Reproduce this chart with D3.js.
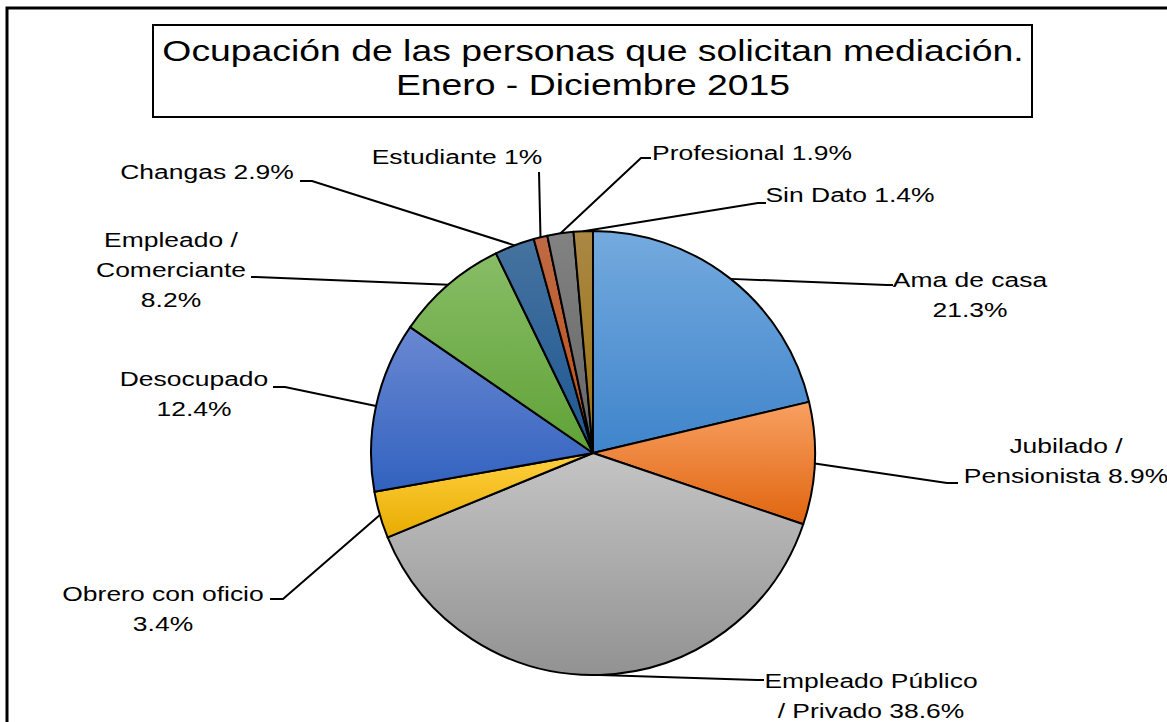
<!DOCTYPE html>
<html>
<head>
<meta charset="utf-8">
<script src="https://cdn.jsdelivr.net/npm/d3@7"></script>
<style>
  body { margin: 0; background: #fff; }
  svg { display: block; }
  text { font-family: "Liberation Sans", Arial, sans-serif; fill: #000; }
</style>
</head>
<body>
<svg id="chart" width="1167" height="722"></svg>
<script>

// datos (porcentajes, sentido horario desde las 12)
const categories = ["Ama de casa", "Jubilado / Pensionista", "Empleado Público / Privado", "Obrero con oficio",
                    "Desocupado", "Empleado / Comerciante", "Changas", "Estudiante", "Profesional", "Sin Dato"];
const values = [21.3, 8.9, 38.6, 3.4, 12.4, 8.2, 2.9, 1, 1.9, 1.4];
const labelLines = [
  ["Ama de casa", "21.3%"],
  ["Jubilado /", "Pensionista 8.9%"],
  ["Empleado Público", "/ Privado 38.6%"],
  ["Obrero con oficio", "3.4%"],
  ["Desocupado", "12.4%"],
  ["Empleado /", "Comerciante", "8.2%"],
  ["Changas 2.9%"],
  ["Estudiante 1%"],
  ["Profesional 1.9%"],
  ["Sin Dato 1.4%"]
];
const titleLines = ["Ocupación de las personas que solicitan mediación.", "Enero - Diciembre 2015"];

// colores: [arriba, abajo] del degradado
const colors = [
  ["#74aade", "#3f84cb"], ["#f8a062", "#e0650f"], ["#c4c4c4", "#929292"], ["#ffd040", "#e8ac00"],
  ["#6a88d2", "#3162bf"], ["#88bd66", "#60a237"], ["#46739f", "#1d5793"], ["#bf6a45", "#c04e16"],
  ["#828282", "#656565"], ["#aa8845", "#9a720e"]
];

// posiciones de etiquetas: centro del texto, línea base, codo y fin del conector
const labelLayout = [
  {cx: 970, y: 287, ex: 887, ey: 285, hx: 893},
  {cx: 1066, y: 453, ex: 947, ey: 483, hx: 958},
  {cx: 871, y: 688, ex: 757, ey: 680, hx: 764},
  {cx: 163, y: 601, ex: 283, ey: 599, hx: 270},
  {cx: 194, y: 386, ex: 285, ey: 387, hx: 273},
  {cx: 171, y: 247, ex: 256, ey: 277, hx: 251},
  {cx: 207, y: 179, ex: 312, ey: 181, hx: 300},
  {cx: 457, y: 164, ex: 539, ey: 172, hx: 539},
  {cx: 752, y: 160, ex: 641, ey: 158, hx: 651},
  {cx: 850, y: 202, ex: 758, ey: 203, hx: 766}
];

const width = 1167, height = 722;
const cx = 593, cy = 453, radius = 222;
const sx = 1.26;      // el original está estirado a lo ancho
const lineH = 30;

const svg = d3.select("#chart");
const defs = svg.append("defs");

colors.forEach((c, i) => {
  const g = defs.append("linearGradient").attr("id", "g" + i)
    .attr("x1", 0).attr("y1", 0).attr("x2", 0).attr("y2", 1);
  g.append("stop").attr("offset", "0%").attr("stop-color", c[0]);
  g.append("stop").attr("offset", "100%").attr("stop-color", c[1]);
});

// marco exterior
svg.append("rect")
  .attr("x", 7).attr("y", 8).attr("width", 1250).attr("height", 800)
  .attr("fill", "none").attr("stroke", "#000").attr("stroke-width", 3);

// titulo
svg.append("rect")
  .attr("x", 153).attr("y", 25).attr("width", 879).attr("height", 92)
  .attr("fill", "#fff").attr("stroke", "#000").attr("stroke-width", 2);

const title = svg.append("text")
  .attr("transform", "translate(593,61) scale(1.245,1)")
  .attr("text-anchor", "middle")
  .style("font-size", "30px");
titleLines.forEach((t, i) => {
  title.append("tspan").attr("x", 0).attr("dy", i === 0 ? 0 : 34).text(t);
});

// pie
const pie = d3.pie().sort(null).value(d => d);
const arcs = pie(values);
const arc = d3.arc().innerRadius(0).outerRadius(radius);

const g = svg.append("g").attr("transform", `translate(${cx},${cy})`);

g.selectAll("path.slice")
  .data(arcs)
  .enter()
  .append("path")
  .attr("class", "slice")
  .attr("d", arc)
  .attr("fill", (d, i) => `url(#g${i})`)
  .attr("stroke", "#000")
  .attr("stroke-width", 2)
  .attr("stroke-linejoin", "round");

// conectores
arcs.forEach((d, i) => {
  const a = (d.startAngle + d.endAngle) / 2;
  const x0 = cx + radius * Math.sin(a);
  const y0 = cy - radius * Math.cos(a);
  const L = labelLayout[i];
  svg.append("path")
    .attr("d", `M${x0},${y0}L${L.ex},${L.ey}L${L.hx},${L.ey}`)
    .attr("fill", "none")
    .attr("stroke", "#000")
    .attr("stroke-width", 2);
});

// etiquetas
labelLines.forEach((lines, i) => {
  const L = labelLayout[i];
  const t = svg.append("text")
    .attr("transform", `translate(${L.cx},${L.y}) scale(${sx},1)`)
    .attr("text-anchor", "middle")
    .style("font-size", "21px");
  lines.forEach((s, j) => {
    t.append("tspan").attr("x", 0).attr("dy", j === 0 ? 0 : lineH).text(s);
  });
});

</script>
</body>
</html>
